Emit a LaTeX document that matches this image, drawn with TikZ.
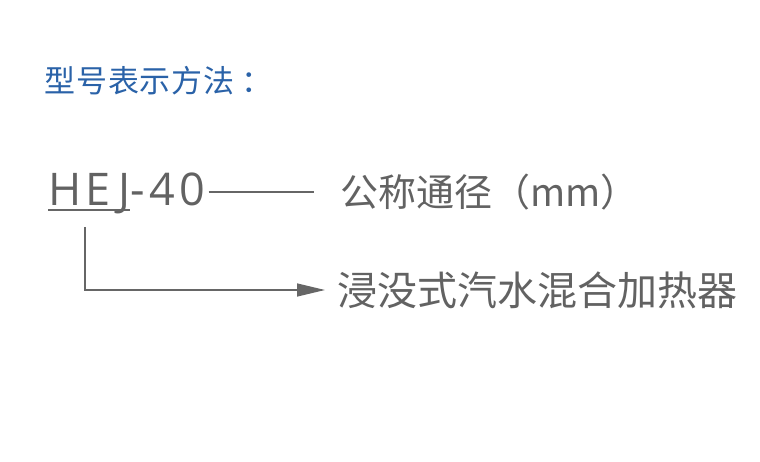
\documentclass[tikz,border=0pt]{standalone}
\usepackage{fontspec}
\usepackage{tikz}
\usetikzlibrary{positioning,arrows.meta}
\newfontfamily\cjk{Noto Sans CJK SC}
\newfontfamily\cjktitle[LetterSpace=3]{Noto Sans CJK SC}
\newfontfamily\latin[LetterSpace=10]{Open Sans}
\definecolor{titleblue}{HTML}{2A62A8}
\definecolor{textgray}{HTML}{626262}
\definecolor{linegray}{HTML}{666666}

\begin{document}
\begin{tikzpicture}[x=1pt, y=-1pt,
			label/.style={inner sep=0pt, anchor=west, text=textgray, font=\cjk\fontsize{40}{44}\selectfont},
			wire/.style={draw=linegray, line width=1.4pt},
		]
		\useasboundingbox (0,0) rectangle (760,462);

		\node[inner sep=0pt, anchor=west, text=titleblue, font=\cjktitle\fontsize{31}{34}\selectfont] (title) at (44,81) {型号表示方法\hspace{7pt}：};

		\node[inner sep=0pt, anchor=base west, text=textgray, font=\latin\fontsize{45}{50}\selectfont] (code) at (48,206) {HEJ};
		\node[inner sep=0pt, anchor=base west, text=textgray, font=\latin\fontsize{45}{50}\selectfont] (size) at (code.base east) {-40};

		\node[label, font=\cjk\fontsize{38}{42}\selectfont] (dn) at (340,192) {公称通径（mm）};
		\node[label] (heater) at (337,290) {浸没式汽水混合加热器};

		% underline below the type letters
		\draw[wire, line width=2pt] ([yshift=-4pt]code.base west) -- ([yshift=-4pt]code.base east);

		\draw[wire] ([xshift=3pt]size.east |- dn.west) -- ([xshift=-26pt]dn.west);
		\draw[wire, -{Triangle[length=28pt, width=13pt]}] ([xshift=-4pt, yshift=-21pt]code.base) |- ([xshift=-12pt]heater.west);

\end{tikzpicture}
\end{document}
